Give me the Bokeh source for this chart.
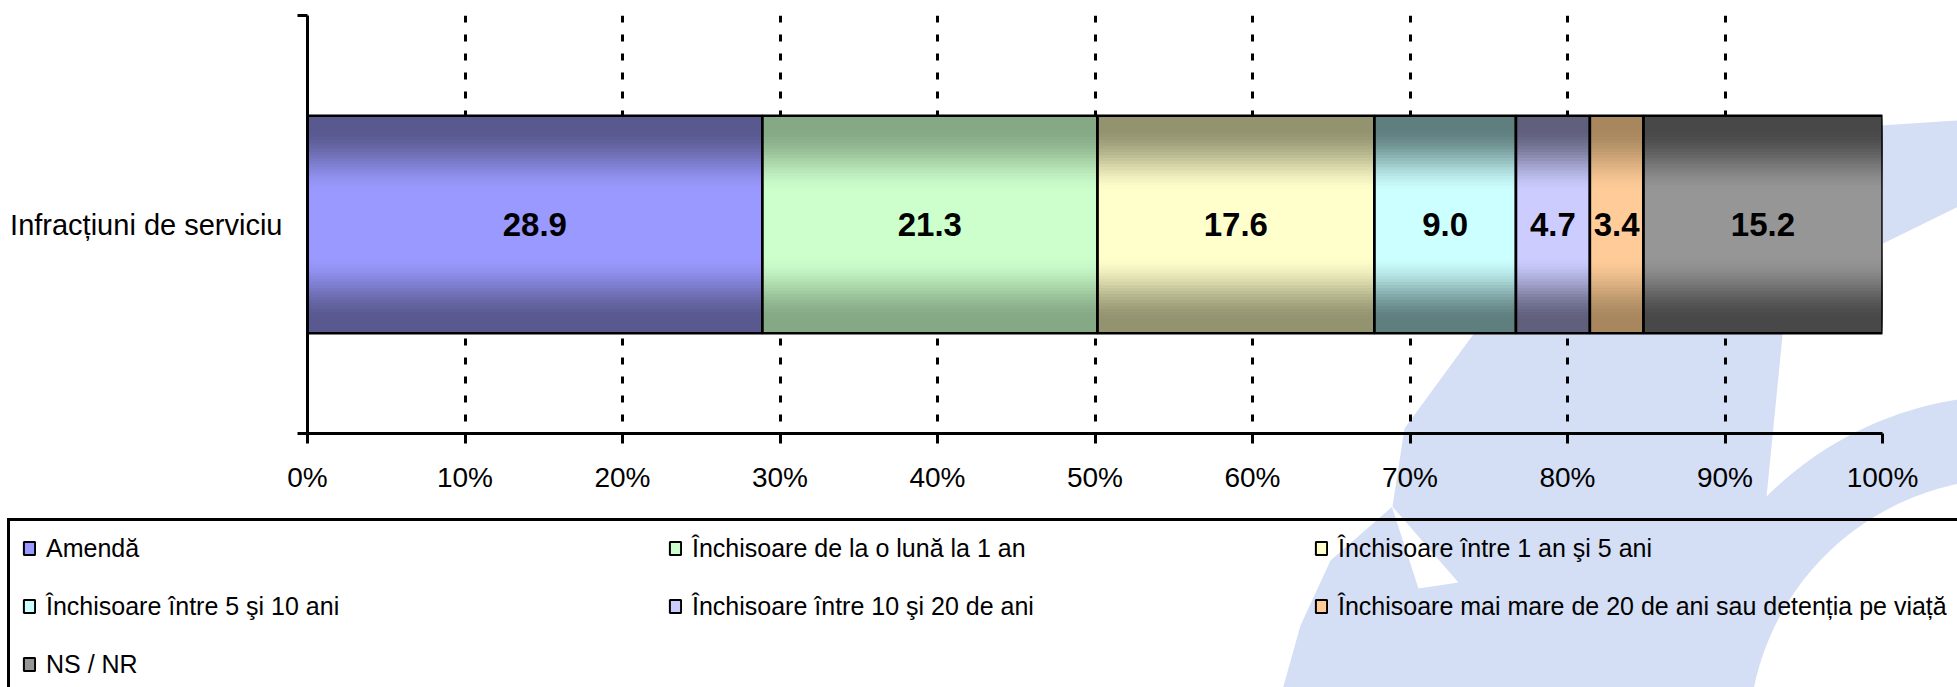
import numpy as np
from bokeh.plotting import figure
from bokeh.models import (Range1d, FixedTicker, Legend, LegendItem, ColumnDataSource)
from bokeh.core.properties import value
from bokeh.embed import file_html
from bokeh.resources import INLINE

# ---------------- data ----------------
category = "Infracțiuni de serviciu"
series = [
    "Amendă",
    "Închisoare de la o lună la 1 an",
    "Închisoare între 1 an şi 5 ani",
    "Închisoare între 5 şi 10 ani",
    "Închisoare între 10 şi 20 de ani",
    "Închisoare mai mare de 20 de ani sau detenția pe viață",
    "NS / NR",
]
values = [28.9, 21.3, 17.6, 9.0, 4.7, 3.4, 15.2]
x_ticks = [0, 10, 20, 30, 40, 50, 60, 70, 80, 90, 100]
x_tick_labels = ["0%", "10%", "20%", "30%", "40%", "50%", "60%", "70%", "80%", "90%", "100%"]

# ---------------- style ----------------
base_colors = ["#9999FF", "#CCFFCC", "#FFFFCC", "#CCFFFF", "#CCCCFF", "#FFCC99", "#969696"]
edge_colors = ["#59598F", "#85A885", "#939370", "#5F7F7F", "#60607D", "#A8875F", "#484848"]
FONT = "Liberation Sans"
WATERMARK = "#D4DEF4"
BAR_Y = 0.5
BAR_H = 0.52
N_LAYERS = 36

# 100% stacked: normalise by the total
total = sum(values)
pct = [v / total * 100 for v in values]
ends = list(np.cumsum(pct))
starts = [0.0] + ends[:-1]
centers = [(a + b) / 2 for a, b in zip(starts, ends)]
labels = [f"{v:.1f}" for v in values]


def hex2rgb(h):
    h = h.lstrip("#")
    return np.array([int(h[i:i + 2], 16) for i in (0, 2, 4)], dtype=float)


def mix(c1, c2, t):
    c = hex2rgb(c1) * (1 - t) + hex2rgb(c2) * t
    return "#%02x%02x%02x" % tuple(int(round(v)) for v in c)


def smooth(u):
    u = min(1.0, max(0.0, u))
    return u * u * (3 - 2 * u)


W, H = 1957, 687
FL, FR, FT, FB = 307, 1882, 15, 433   # chart frame edges in pixels
ABS = {"position": "absolute", "top": "0px", "left": "0px"}

# =============== background figure: watermark + legend ===============
bg = figure(width=W, height=H, x_range=Range1d(0, W), y_range=Range1d(H, 0),
            x_axis_type=None, y_axis_type=None, output_backend="svg",
            toolbar_location=None, min_border=0)
bg.outline_line_color = None
bg.grid.visible = False
bg.background_fill_color = "white"
bg.border_fill_color = "white"
bg.styles = dict(ABS, **{"z-index": "0"})


def arc(cx, cy, r, a0, a1, n=60):
    a = np.linspace(np.radians(a0), np.radians(a1), n)
    return [(cx + r * np.cos(t), cy - r * np.sin(t)) for t in a]


band = [(1279, 700), (1300, 625), (1330, 560), (1392, 506), (1404, 428), (1472, 335),
        (1560, 250), (1680, 180), (1800, 140), (1880, 125), (1970, 119), (1970, 700)]
ring_c = (2010, 740)
outer_pts = arc(ring_c[0], ring_c[1], 345, 135, 80)
gap = [(1970, 200), (1852, 258), (1783, 325)] + [pt for pt in outer_pts if pt[0] >= 1760] + [(1970, 395)]
hole = arc(ring_c[0], ring_c[1], 262, 0, 360, 120)
notch = [(1391, 505), (1458, 582), (1418, 588)]

shapes = [band, gap, notch, hole]
shape_cols = [WATERMARK, "white", "white", "white"]
bg.patches(xs=[[x for x, y in s] for s in shapes], ys=[[y for x, y in s] for s in shapes],
           fill_color=shape_cols, line_color=None)

# legend proxy renderer (not drawn, supplies the legend swatches)
proxy = bg.hbar(y=BAR_Y, left=starts, right=ends, height=BAR_H,
                fill_color=base_colors, line_color="black", line_width=2, visible=False)
items = [LegendItem(label=s, renderers=[proxy], index=i) for i, s in enumerate(series)]
legend = Legend(items=items, location=(7, -7), orientation="horizontal", ncols=3,
                label_text_font=FONT, label_text_font_size="25px", label_text_color="black",
                glyph_width=14, glyph_height=16, label_standoff=10, label_width=594,
                label_height=30, spacing=28, padding=12, margin=0,
                border_line_color="black", border_line_width=3, border_line_alpha=1.0,
                background_fill_alpha=0.0)
bg.add_layout(legend)

# =============== foreground figure: the chart ===============
p = figure(width=W, height=H, x_range=Range1d(0, 100), y_range=Range1d(0, 1),
           output_backend="svg", toolbar_location=None,
           min_border_left=FL, min_border_right=W - FR,
           min_border_top=FT, min_border_bottom=H - FB)
p.outline_line_color = None
p.background_fill_alpha = 0.0
p.border_fill_alpha = 0.0
p.styles = dict(ABS, **{"z-index": "1"})

p.xgrid.ticker = FixedTicker(ticks=x_ticks[1:])
p.xgrid.grid_line_color = "black"
p.xgrid.grid_line_width = 3
p.xgrid.grid_line_dash = "7 12"
p.xgrid.grid_line_dash_offset = 7
p.ygrid.grid_line_color = None

xa = p.xaxis[0]
xa.ticker = FixedTicker(ticks=x_ticks)
xa.major_label_overrides = {t: l for t, l in zip(x_ticks, x_tick_labels)}
xa.axis_line_width = 3
xa.major_tick_line_width = 3
xa.major_tick_out = 10
xa.major_tick_in = 0
xa.minor_tick_line_color = None
xa.major_label_text_font = FONT
xa.major_label_text_font_size = "28px"
xa.major_label_text_color = "black"
xa.major_label_standoff = 18

ya = p.yaxis[0]
ya.ticker = FixedTicker(ticks=[BAR_Y], minor_ticks=[0, 1])
ya.major_label_overrides = {BAR_Y: category}
ya.axis_line_width = 3
ya.major_tick_out = 0
ya.major_tick_in = 0
ya.minor_tick_out = 10
ya.minor_tick_in = 0
ya.minor_tick_line_width = 3
ya.minor_tick_line_color = "black"
ya.major_label_text_font = FONT
ya.major_label_text_font_size = "29px"
ya.major_label_text_color = "black"
ya.major_label_standoff = 15

# gradient-filled stacked segments (nested bands, darker towards the edges)
g_left, g_right, g_h, g_col = [], [], [], []
for k in range(N_LAYERS):
    d = 1 - k / N_LAYERS
    t = smooth((d - 0.3) / 0.6)
    for i in range(len(values)):
        g_left.append(starts[i])
        g_right.append(ends[i])
        g_h.append(BAR_H * d)
        g_col.append(mix(base_colors[i], edge_colors[i], t))
grad_src = ColumnDataSource(dict(left=g_left, right=g_right, h=g_h, c=g_col))
p.hbar(y=BAR_Y, left="left", right="right", height="h", fill_color="c",
       line_color=None, source=grad_src)

p.hbar(y=BAR_Y, left=starts, right=ends, height=BAR_H, fill_color=None,
       line_color="black", line_width=2.5)

p.text(x=centers, y=[BAR_Y] * len(values), text=labels, text_font=value(FONT),
       text_font_style="bold", text_font_size="33px", text_align="center",
       text_baseline="middle", text_color="black")

open("out.html", "w").write(file_html([bg, p], INLINE))
